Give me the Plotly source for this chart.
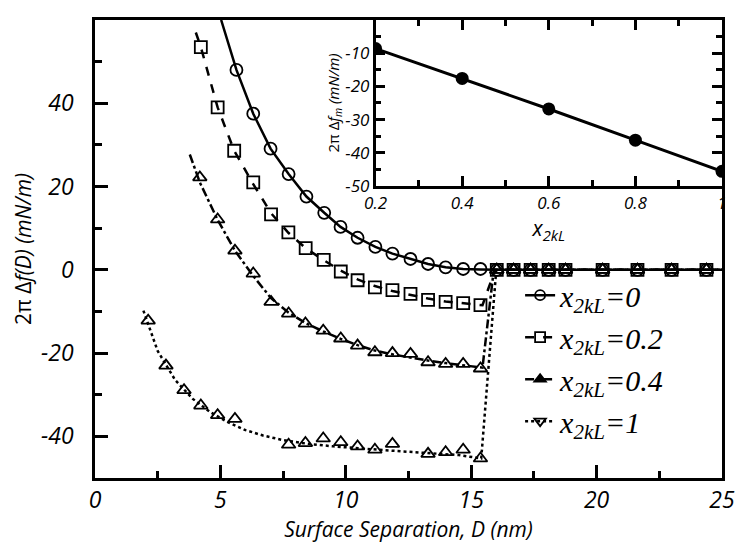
import plotly.graph_objects as go

# ---------------- data ----------------
# x2kL = 0 (circles)
d0 = [5.64, 6.31, 7.00, 7.72, 8.43, 9.14, 9.79, 10.47, 11.18, 11.86, 12.58, 13.28, 13.98, 14.68, 15.37,
      16.02, 16.69, 17.37, 18.09, 18.76, 20.24, 21.63, 22.99, 24.38]
f0 = [48.0, 37.5, 29.1, 23.0, 17.6, 13.7, 10.3, 7.7, 5.5, 3.9, 2.6, 1.4, 0.6, 0.2, 0.2,
      0, 0, 0, 0, 0, 0, 0, 0, 0]
fit_d0 = [5.03, 5.64, 6.31, 7.00, 7.72, 8.43, 9.14, 9.79, 10.47, 11.18, 11.86, 12.58, 13.28, 13.98, 14.68, 15.37, 16.02, 25.0]
fit_f0 = [60.0, 48.0, 37.5, 29.1, 23.0, 17.6, 13.7, 10.3, 7.7, 5.5, 3.9, 2.6, 1.4, 0.6, 0.2, 0.1, 0.0, 0.0]

# x2kL = 0.2 (squares)
d1 = [4.22, 4.89, 5.55, 6.31, 7.02, 7.71, 8.40, 9.12, 9.80, 10.47, 11.16, 11.86, 12.58, 13.28, 13.98, 14.68, 15.37,
      16.02, 16.69, 17.37, 18.09, 18.76, 20.24, 21.63, 22.99, 24.38]
f1 = [53.5, 39.0, 28.6, 21.0, 13.3, 9.0, 5.2, 2.4, -0.4, -2.5, -4.2, -4.9, -5.8, -7.2, -7.7, -8.0, -8.5,
      0, 0, 0, 0, 0, 0, 0, 0, 0]
fit_d1 = [4.02, 4.22, 4.89, 5.55, 6.31, 7.02, 7.71, 8.40, 9.12, 9.80, 10.47, 11.16, 11.86, 12.58, 13.28, 13.98, 14.68, 15.45, 15.95, 25.0]
fit_f1 = [57.0, 53.5, 39.0, 28.6, 20.6, 13.6, 8.9, 5.2, 2.3, -0.2, -2.3, -3.9, -5.1, -6.1, -6.9, -7.6, -8.1, -8.5, 0.0, 0.0]

# x2kL = 0.4 (triangles)
d2 = [4.18, 4.89, 5.58, 6.31, 7.02, 7.72, 8.39, 9.10, 9.80, 10.47, 11.16, 11.86, 12.58, 13.28, 13.98, 14.68, 15.37,
      16.02, 16.69, 17.37, 18.09, 18.76, 20.24, 21.63, 22.99, 24.38]
f2 = [22.2, 12.1, 4.6, -0.9, -7.7, -10.5, -12.9, -14.6, -16.5, -18.2, -19.8, -20.0, -20.2, -22.2, -22.6, -22.6, -23.7,
      0, 0, 0, 0, 0, 0, 0, 0, 0]
fit_d2 = [3.78, 4.18, 4.89, 5.58, 6.31, 7.02, 7.72, 8.40, 9.10, 9.80, 10.47, 11.16, 11.86, 12.58, 13.28, 13.98, 14.68, 15.45, 15.9, 25.0]
fit_f2 = [27.7, 21.0, 12.0, 4.6, -1.5, -6.8, -10.3, -12.8, -14.8, -16.6, -18.1, -19.4, -20.3, -21.1, -21.8, -22.4, -22.9, -23.5, 0.0, 0.0]

# x2kL = 1 (triangles)
d3 = [2.12, 2.83, 3.55, 4.22, 4.89, 5.58, 7.72, 8.39, 9.10, 9.80, 10.47, 11.16, 11.86, 13.28, 13.98, 14.68, 15.37,
      16.02, 16.69, 17.37, 18.09, 18.76, 20.24, 21.63, 22.99, 24.38]
f3 = [-12.2, -23.0, -28.9, -32.6, -34.9, -35.8, -42.0, -41.6, -40.5, -41.4, -42.4, -43.2, -41.8, -44.2, -43.8, -43.2, -45.3,
      0, 0, 0, 0, 0, 0, 0, 0, 0]
fit_d3 = [1.93, 2.5, 3.2, 3.9, 4.6, 5.3, 6.0, 6.7, 7.5, 8.5, 9.5, 10.5, 11.5, 12.5, 13.5, 14.5, 15.4, 16.0, 25.0]
fit_f3 = [-9.8, -19.5, -26.5, -31.0, -34.2, -36.6, -38.5, -39.8, -40.9, -41.8, -42.4, -42.9, -43.3, -43.7, -44.1, -44.5, -45.3, 0.0, 0.0]

# inset
x_inset = [0.2, 0.4, 0.6, 0.8, 1.0]
fm_inset = [-8.6, -17.6, -26.8, -36.2, -45.6]

# ticks
main_xticks = [0, 5, 10, 15, 20, 25]
main_xtext = ["0", "5", "10", "15", "20", "25"]
main_yticks = [-40, -20, 0, 20, 40, 60]
main_ytext = ["-40", "-20", "0", "20", "40", "60"]
inset_xticks = [0.2, 0.4, 0.6, 0.8, 1.0]
inset_xtext = ["0.2", "0.4", "0.6", "0.8", "1"]
inset_yticks = [-50, -40, -30, -20, -10, 0]
inset_ytext = ["-50", "-40", "-30", "-20", "-10", "0"]

legend_names = ["<i>x</i><sub><i>2kL</i></sub><i>=0</i>",
                "<i>x</i><sub><i>2kL</i></sub><i>=0.2</i>",
                "<i>x</i><sub><i>2kL</i></sub><i>=0.4</i>",
                "<i>x</i><sub><i>2kL</i></sub><i>=1</i>"]


def ital(labels):
    return ["<i>" + t + "</i>" for t in labels]


SERIF = "Liberation Serif"
fig = go.Figure()

fits = [(fit_d0, fit_f0, "solid"), (fit_d1, fit_f1, "dash"),
        (fit_d2, fit_f2, "dashdot"), (fit_d3, fit_f3, "dot")]
for fd, ff, dash in fits:
    fig.add_trace(go.Scatter(x=fd, y=ff, mode="lines", showlegend=False,
                             line=dict(color="black", width=2.5, dash=dash), hoverinfo="skip"))

pts = [(d0, f0, "circle-open"), (d1, f1, "square-open"),
       (d2, f2, "triangle-up-open"), (d3, f3, "triangle-up-open")]
for dd, ff, sym in pts:
    fig.add_trace(go.Scatter(x=dd, y=ff, mode="markers", showlegend=False,
                             marker=dict(symbol=sym, size=12, color="black",
                                         line=dict(color="black", width=1.8))))

leg_styles = [("solid", "circle-open"), ("dash", "square-open"),
              ("dashdot", "triangle-up"), ("dot", "triangle-down-open")]
for name, (dash, sym) in zip(legend_names, leg_styles):
    fig.add_trace(go.Scatter(x=[None], y=[None], mode="lines+markers", name=name,
                             line=dict(color="black", width=2.5, dash=dash),
                             marker=dict(symbol=sym, size=10, color="black",
                                         line=dict(color="black", width=1.8))))

fig.add_trace(go.Scatter(x=x_inset, y=fm_inset, mode="lines+markers", showlegend=False,
                         xaxis="x2", yaxis="y2",
                         line=dict(color="black", width=3),
                         marker=dict(symbol="circle", size=13, color="black")))

fig.update_layout(
    width=750, height=553,
    margin=dict(l=87, r=36, t=12, b=83),
    paper_bgcolor="white", plot_bgcolor="white",
    font=dict(color="black"),
    xaxis=dict(showgrid=False, zeroline=False, showline=True, linecolor="black", linewidth=2.5,
               automargin=False,
               range=[0, 25], tickmode="array", tickvals=main_xticks, ticktext=ital(main_xtext),
               ticks="inside", ticklen=13, tickwidth=2.5, tickcolor="black", mirror=True,
               minor=dict(ticks="inside", dtick=2.5, tick0=0, ticklen=7, tickcolor="black", tickwidth=2.5),
               tickfont=dict(size=23),
               title=dict(text="<i>Surface Separation, D (nm)</i>", font=dict(size=21), standoff=2)),
    yaxis=dict(showgrid=False, zeroline=False, showline=True, linecolor="black", linewidth=2.5,
               automargin=False,
               range=[-50, 60], tickmode="array", tickvals=main_yticks, ticktext=ital(main_ytext),
               ticks="inside", ticklen=13, tickwidth=2.5, tickcolor="black", mirror=True,
               minor=dict(ticks="inside", dtick=10, tick0=0, ticklen=7, tickcolor="black", tickwidth=2.5),
               tickfont=dict(size=23), ticklabelstandoff=14,
               title=dict(text="2π Δ<i>f(D) (mN/m)</i>", font=dict(size=21), standoff=4)),
    xaxis2=dict(showgrid=False, zeroline=False, showline=True, linecolor="black", linewidth=2.5,
                automargin=False,
                domain=[0.4475, 1.0], anchor="y2", range=[0.2, 1.0],
                tickmode="array", tickvals=inset_xticks, ticktext=ital(inset_xtext),
                ticks="inside", ticklen=10, tickwidth=2.5, tickcolor="black", mirror="ticks",
                minor=dict(ticks="inside", dtick=0.1, tick0=0.2, ticklen=6, tickcolor="black", tickwidth=2.5),
                tickfont=dict(size=17),
                title=dict(text="<i>x</i><sub><i>2kL</i></sub>", font=dict(size=21), standoff=0)),
    yaxis2=dict(showgrid=False, zeroline=False, showline=True, linecolor="black", linewidth=2.5,
                automargin=False,
                domain=[0.6376, 1.0], anchor="x2", range=[-50, 0],
                tickmode="array", tickvals=inset_yticks, ticktext=ital(inset_ytext),
                ticks="inside", ticklen=10, tickwidth=2.5, tickcolor="black", mirror="ticks",
                minor=dict(ticks="inside", dtick=5, tick0=0, ticklen=6, tickcolor="black", tickwidth=2.5),
                tickfont=dict(size=17),
                title=dict(text="2π Δ<i>f</i><sub><i>m</i></sub> <i>(mN/m)</i>", font=dict(size=15), standoff=2)),
    legend=dict(x=0.678, y=0.456, xanchor="left", yanchor="top", bgcolor="rgba(0,0,0,0)",
                font=dict(family=SERIF, size=30), itemwidth=30, tracegroupgap=0),
)

fig.write_html("out.html")
